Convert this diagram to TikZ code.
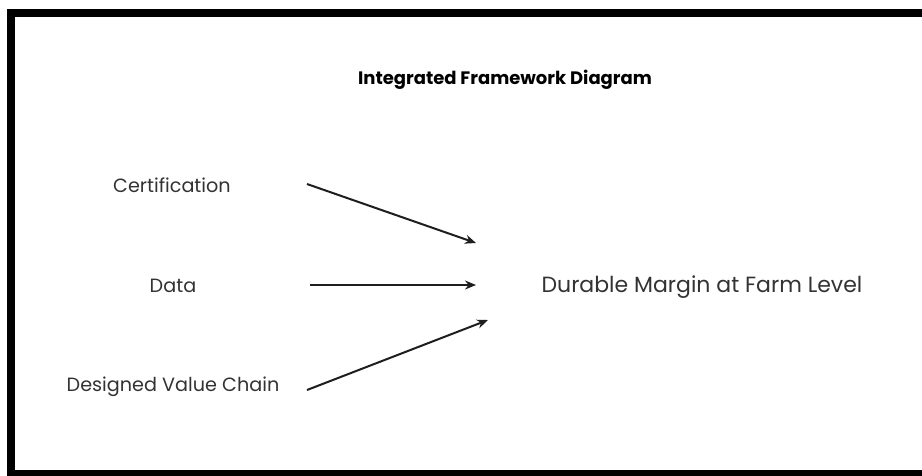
\documentclass[tikz,border=0pt]{standalone}
\usepackage{fontspec}
\setmainfont{Poppins}
\usetikzlibrary{arrows.meta}
\definecolor{labelgray}{HTML}{333333}
\definecolor{inkgray}{HTML}{1E1E1E}
\tikzset{
  lbl/.style={text=labelgray, font=\fontsize{19.2}{22}\selectfont, inner sep=0pt, anchor=center},
  goal/.style={text=labelgray, font=\fontsize{22}{26}\selectfont, inner sep=0pt, anchor=center},
  heading/.style={text=black, font=\bfseries\fontsize{18}{21}\selectfont, inner sep=0pt, anchor=center},
  feed/.style={draw=inkgray, line width=2pt, -{Stealth[length=11pt,width=9pt]}},
  frame/.style={draw=black, line width=8pt}
}
\begin{document}
\begin{tikzpicture}[x=1pt, y=-1pt]
\useasboundingbox (0,0) rectangle (922,475);
\fill[white] (0,0) rectangle (922,475);
% open frame: top, left and bottom edges
\draw[frame] (930,13) -- (11,13) -- (11,474) -- (930,474);

\node[heading] (title) at (505,80) {Integrated Framework Diagram};

\node[lbl] (cert) at (172,185) {Certification};
\node[lbl] (data) at (173,286) {Data};
\node[lbl] (chain) at (173,387) {Designed Value Chain};
\node[goal] (margin) at (702,287) {Durable Margin at Farm Level};

\coordinate (certout) at (307,184);
\coordinate (certin) at (476,243);
\coordinate (dataout) at (310,285);
\coordinate (datain) at (476,285);
\coordinate (chainout) at (307,390);
\coordinate (chainin) at (488,320);

\draw[feed] (certout) -- (certin);
\draw[feed] (dataout) -- (datain);
\draw[feed] (chainout) -- (chainin);
\end{tikzpicture}
\end{document}
